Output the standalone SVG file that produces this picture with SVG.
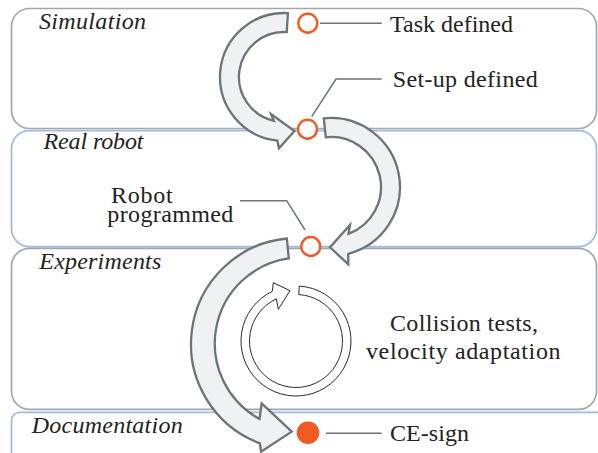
<svg xmlns="http://www.w3.org/2000/svg" width="598" height="453" viewBox="0 0 598 453">
  <style>
    .phase-gray { fill: #ffffff; stroke: #a3a7ac; stroke-width: 1.7; }
    .phase-blue { fill: #ffffff; stroke: #9dbcdc; stroke-width: 1.7; }
    .phase-label { font-family: "Liberation Serif", "Times New Roman", serif; font-style: italic; font-size: 24px; fill: #222222; }
    .label { font-family: "Liberation Serif", "Times New Roman", serif; font-size: 24px; fill: #222222; }
    .flow { fill: #eff1f3; stroke: #6b737b; stroke-width: 2.3; stroke-linejoin: miter; }
    .loop { fill: #ffffff; stroke: #2a2a2a; stroke-width: 1; }
    .leader { fill: none; stroke: #6b737b; stroke-width: 1.5; }
    .milestone { fill: #ffffff; stroke: #f05a24; stroke-width: 2.4; }
    .milestone-done { fill: #f05a24; stroke: none; }
  </style>

  <!-- project phases -->
  <g id="phase-simulation">
    <rect class="phase-gray" x="11.5" y="8.5" width="585" height="120" rx="18"/>
    <text class="phase-label" x="39" y="28.5" textLength="107">Simulation</text>
  </g>
  <g id="phase-real-robot">
    <rect class="phase-blue" x="11.5" y="130.7" width="585" height="116" rx="18"/>
    <text class="phase-label" x="43.5" y="149.3" textLength="100">Real robot</text>
  </g>
  <g id="phase-experiments">
    <rect class="phase-gray" x="11.5" y="248.3" width="585" height="161" rx="18"/>
    <text class="phase-label" x="39.3" y="269" textLength="122">Experiments</text>
  </g>
  <g id="phase-documentation">
    <rect class="phase-blue" x="11.5" y="412.3" width="620" height="80" rx="8"/>
    <text class="phase-label" x="31.7" y="432.7" textLength="151">Documentation</text>
  </g>

  <!-- iteration loop inside the experiments phase -->
  <g id="experiment-loop">
    <path class="loop" d="M299.26,286.10 A55,55 0 1 1 272.32,291.36 L273.3,282.7 L290,290.7 L278.3,309.3 L276.35,298.86 A46.5,46.5 0 1 0 298.76,294.58 Z"/>
    <text class="label" x="390" y="330.7" textLength="148">Collision tests,</text>
    <text class="label" x="366" y="359.3" textLength="194.5">velocity adaptation</text>
  </g>

  <!-- flow arrows and leader lines -->
  <g id="connectors">
    <path class="flow" d="M287.91,13.12 A64,64 0 0 0 277.31,140.65 L279,148.3 L294.5,131 L271,114 L273.88,120.85 A45,45 0 0 1 286.75,32.08 Z"/>
    <path class="flow" d="M323.79,118.38 A69,69 0 0 1 348.28,253.80 L348.3,264.3 L330,247.3 L350,225 L348.51,233.83 A50,50 0 0 0 325.77,137.27 Z"/>
    <path class="flow" d="M286.84,238.49 A106,106 0 0 0 259.88,443.29 L261,451.7 L291.7,431.7 L261.7,403.3 L259.5,419 A86,86 0 0 1 288.76,258.40 Z"/>
    <path class="leader" d="M320,23.3 H381.7"/>
    <path class="leader" d="M311.7,116.7 L336,79 H381.7"/>
    <path class="leader" d="M240,200.7 H286.7 L305,230"/>
    <path class="leader" d="M326,433.3 H381.7"/>
  </g>

  <!-- milestones -->
  <g id="milestone-task">
    <circle class="milestone" cx="307.8" cy="23.2" r="9.5"/>
    <text class="label" x="390" y="31.7" textLength="123">Task defined</text>
  </g>
  <g id="milestone-setup">
    <circle class="milestone" cx="307.5" cy="129.2" r="9.5"/>
    <text class="label" x="392.7" y="87.3" textLength="145">Set-up defined</text>
  </g>
  <g id="milestone-robot">
    <circle class="milestone" cx="310.8" cy="246.5" r="9.5"/>
    <text class="label" x="111" y="202.7" textLength="61.7">Robot</text>
    <text class="label" x="107.3" y="221.7" textLength="126">programmed</text>
  </g>
  <g id="milestone-ce">
    <circle class="milestone-done" cx="308" cy="432.8" r="11.3"/>
    <text class="label" x="390" y="441" textLength="79">CE-sign</text>
  </g>
</svg>
